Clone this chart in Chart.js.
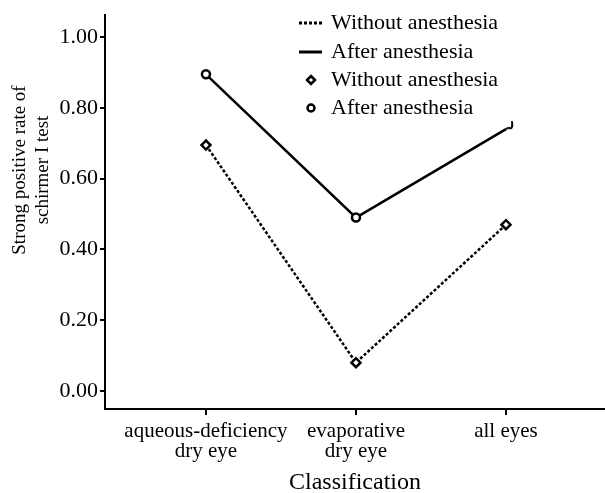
<!DOCTYPE html>
<html>
<head>
<meta charset="utf-8">
<script src="https://cdn.jsdelivr.net/npm/chart.js@4/dist/chart.umd.min.js"></script>
<style>
  html, body { margin: 0; padding: 0; background: #fff; }
  #wrap { width: 605px; height: 493px; }
</style>
</head>
<body>
<div id="wrap"><canvas id="grafico" width="605" height="493"></canvas></div>
<script>
// datos
const categorias = [["aqueous-deficiency", "dry eye"], ["evaporative", "dry eye"], "all eyes"];
const sinAnestesia = [0.695, 0.08, 0.47];
const conAnestesia = [0.895, 0.49, 0.74];
const ticksY = [0, 0.2, 0.4, 0.6, 0.8, 1.0];
const leyenda = ["Without anesthesia", "After anesthesia", "Without anesthesia", "After anesthesia"];
const tituloY = ["Strong positive rate of", "schirmer I test"];

const serif = "'Liberation Serif', 'DejaVu Serif', serif";

// el ganchito al final de la linea continua
function crearGancho() {
  const c = document.createElement("canvas");
  c.width = 24; c.height = 24;
  const g = c.getContext("2d");
  g.strokeStyle = "#000";
  g.lineWidth = 2;
  g.beginPath();
  g.moveTo(12, 12);
  g.quadraticCurveTo(14, 10, 16, 11);
  g.quadraticCurveTo(19, 12, 18, 4);
  g.stroke();
  return c;
}
const gancho = crearGancho();

// leyenda y titulo del eje Y dibujados a mano
const extras = {
  id: "extras",
  afterDraw(chart) {
    const ctx = chart.ctx;
    ctx.save();
    ctx.fillStyle = "#000";
    ctx.strokeStyle = "#000";
    ctx.font = "22px " + serif;
    ctx.textBaseline = "middle";
    const filas = [23, 52, 80, 108];
    filas.forEach((y, i) => {
      ctx.fillText(leyenda[i], 331, y);
    });
    // muestras de linea
    ctx.lineWidth = 3;
    ctx.setLineDash([3, 2]);
    ctx.beginPath(); ctx.moveTo(299, 23); ctx.lineTo(322, 23); ctx.stroke();
    ctx.setLineDash([]);
    ctx.beginPath(); ctx.moveTo(299, 52); ctx.lineTo(322, 52); ctx.stroke();
    // marcadores
    ctx.lineWidth = 2.5;
    ctx.beginPath();
    ctx.moveTo(311, 76); ctx.lineTo(315, 80); ctx.lineTo(311, 84); ctx.lineTo(307, 80); ctx.closePath();
    ctx.stroke();
    ctx.beginPath(); ctx.arc(311, 108, 3.5, 0, Math.PI * 2); ctx.stroke();

    // titulo eje Y
    ctx.font = "19px " + serif;
    ctx.textAlign = "center";
    ctx.translate(0, 170);
    ctx.rotate(-Math.PI / 2);
    ctx.fillText(tituloY[0], 0, 20);
    ctx.fillText(tituloY[1], 0, 43);
    ctx.restore();
  }
};

const ctx = document.getElementById("grafico").getContext("2d");
const grafico = new Chart(ctx, {
  type: "line",
  data: {
    datasets: [
      {
        label: "Without anesthesia",
        data: sinAnestesia.map((v, i) => ({ x: i, y: v })),
        borderColor: "#000",
        borderWidth: 2.5,
        borderDash: [3, 2],
        pointStyle: "rectRot",
        pointRadius: 4.5,
        pointBorderWidth: 2.5,
        pointBackgroundColor: "#fff",
        pointBorderColor: "#000",
        tension: 0
      },
      {
        label: "After anesthesia",
        data: conAnestesia.map((v, i) => ({ x: i, y: v })),
        borderColor: "#000",
        borderWidth: 2.5,
        pointStyle: ["circle", "circle", gancho],
        pointRadius: 4,
        pointBorderWidth: 2.5,
        pointBackgroundColor: "#fff",
        pointBorderColor: "#000",
        tension: 0
      }
    ]
  },
  options: {
    responsive: false,
    animation: false,
    layout: { autoPadding: false, padding: { top: 13, right: 0, left: 0, bottom: 0 } },
    plugins: {
      legend: { display: false },
      tooltip: { enabled: false }
    },
    scales: {
      x: {
        type: "linear",
        min: -0.673,
        max: 2.66,
        afterBuildTicks: (scale) => { scale.ticks = [0, 1, 2].map(v => ({ value: v })); },
        afterFit: (scale) => { scale.height = 84; },
        grid: { drawOnChartArea: false, drawTicks: true, tickLength: 6, color: "#000", lineWidth: 2 },
        border: { display: true, color: "#000", width: 2 },
        ticks: {
          color: "#000",
          font: { family: serif, size: 21, lineHeight: 0.95 },
          padding: 7,
          maxRotation: 0,
          autoSkip: false,
          callback: (v) => categorias[v]
        },
        title: {
          display: true,
          text: "Classification",
          color: "#000",
          font: { family: serif, size: 24 },
          padding: { top: 0, bottom: -4 }
        }
      },
      y: {
        min: -0.051,
        max: 1.062,
        afterBuildTicks: (scale) => { scale.ticks = ticksY.map(v => ({ value: v })); },
        afterFit: (scale) => { scale.width = 105; },
        grid: { drawOnChartArea: false, drawTicks: true, tickLength: 5, color: "#000", lineWidth: 2 },
        border: { display: true, color: "#000", width: 2 },
        ticks: {
          color: "#000",
          font: { family: serif, size: 22 },
          padding: 2,
          callback: (v) => v.toFixed(2)
        }
      }
    }
  },
  plugins: [extras]
});
</script>
</body>
</html>
